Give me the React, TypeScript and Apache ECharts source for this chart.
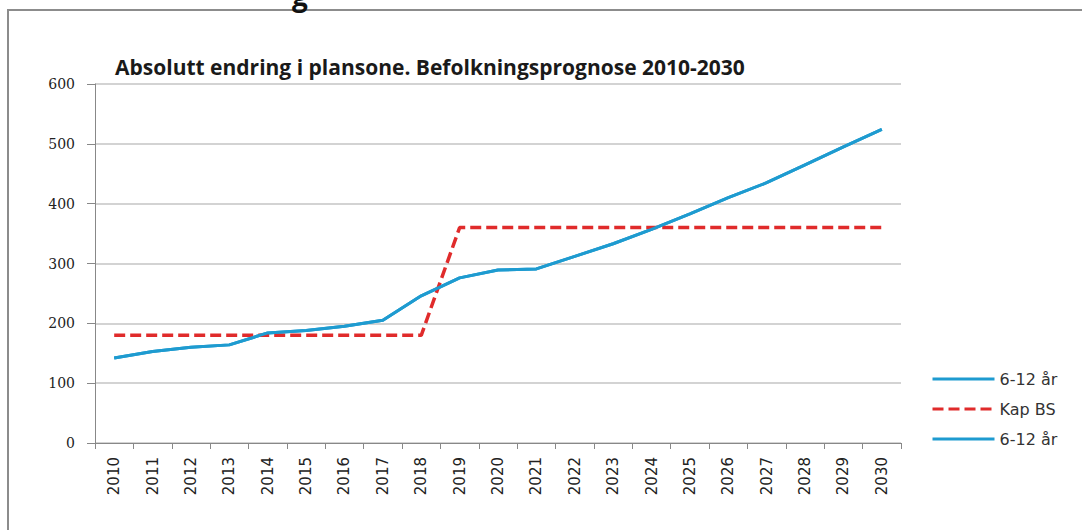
import React, { useEffect, useRef } from "react";
import * as echarts from "echarts";

const years = ["2010","2011","2012","2013","2014","2015","2016","2017","2018","2019","2020","2021","2022","2023","2024","2025","2026","2027","2028","2029","2030"];
const children612 = [142, 153, 160, 164, 184, 188, 195, 205, 246, 276, 289, 291, 312, 333, 357, 383, 410, 435, 465, 495, 524];
const kapBS = [180, 180, 180, 180, 180, 180, 180, 180, 180, 360, 360, 360, 360, 360, 360, 360, 360, 360, 360, 360, 360];
const yTicks = { min: 0, max: 600, interval: 100 };
const titleText = "Absolutt endring i plansone. Befolkningsprognose 2010-2030";

export default function App() {
  const ref = useRef<HTMLDivElement>(null);
  useEffect(() => {
    const chart = echarts.init(ref.current!, null, { renderer: "svg" });
    const blue = "#1e9bd0";
    const red = "#e02b2b";
    chart.setOption({
      animation: false,
      backgroundColor: "#ffffff",
      title: {
        text: titleText,
        left: 110,
        top: 51,
        textStyle: { fontFamily: "Open Sans", fontSize: 21, fontWeight: "bold", color: "#1a1a1a" },
      },
      graphic: [
        {
          type: "rect",
          shape: { x: 8, y: 10, width: 1100, height: 560 },
          style: { fill: "none", stroke: "#8c8c8c", lineWidth: 2 },
          silent: true,
        },
        {
          type: "text",
          left: 292,
          top: -19,
          style: { text: "g", font: "bold 28px 'Open Sans'", fill: "#111" },
          silent: true,
        },
      ],
      legend: {
        orient: "vertical",
        left: 926,
        top: 366,
        itemWidth: 62,
        itemHeight: 14,
        itemGap: 14,
        itemStyle: { opacity: 0 },
        lineStyle: { width: 3 },
        textStyle: { fontFamily: "DejaVu Sans", fontSize: 16, color: "#333" },
        data: ["6-12 år", "Kap BS", "6-12 år "],
      },
      grid: { left: 95, right: 181, top: 84, bottom: 87, containLabel: false },
      xAxis: {
        type: "category",
        data: years,
        boundaryGap: true,
        axisLine: { lineStyle: { color: "#888", width: 1 } },
        axisTick: { show: true, interval: 0, length: 6, lineStyle: { color: "#888" } },
        axisLabel: {
          interval: 0,
          rotate: 90,
          margin: 14,
          fontFamily: "DejaVu Sans",
          fontSize: 15,
          color: "#222",
        },
      },
      yAxis: {
        type: "value",
        min: yTicks.min,
        max: yTicks.max,
        interval: yTicks.interval,
        axisLine: { show: true, lineStyle: { color: "#888", width: 1 } },
        axisTick: { show: true, length: 8, lineStyle: { color: "#888" } },
        axisLabel: { margin: 20, fontFamily: "DejaVu Serif", fontSize: 14, color: "#222" },
        splitLine: { lineStyle: { color: "#c4c4c4", width: 1.5 } },
      },
      series: [
        {
          name: "6-12 år",
          type: "line",
          data: children612,
          symbol: "none",
          lineStyle: { color: blue, width: 3 },
          itemStyle: { color: blue },
        },
        {
          name: "Kap BS",
          type: "line",
          data: kapBS,
          symbol: "none",
          lineStyle: { color: red, width: 3.5, type: [11, 5] },
          itemStyle: { color: red },
        },
        {
          name: "6-12 år ",
          type: "line",
          data: children612,
          symbol: "none",
          lineStyle: { color: blue, width: 3 },
          itemStyle: { color: blue },
        },
      ],
    });
    return () => chart.dispose();
  }, []);
  return (
    <div
      ref={ref}
      style={{ position: "absolute", left: 0, top: 0, width: 1082, height: 530 }}
    />
  );
}
